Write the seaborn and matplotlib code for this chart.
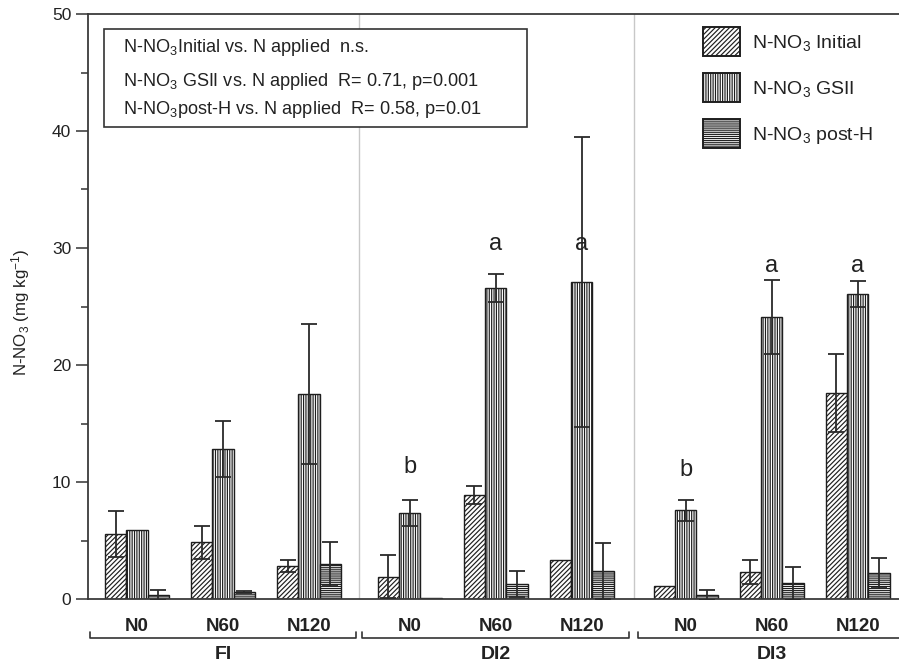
import numpy as np
import pandas as pd
import matplotlib
matplotlib.use("Agg")
import matplotlib.pyplot as plt
from matplotlib.patches import Patch, Rectangle
from matplotlib.container import BarContainer
import matplotlib.transforms as mtransforms
import seaborn as sns

# ---------------- data ----------------
conditions = ["FI", "DI2", "DI3"]
n_levels = ["N0", "N60", "N120"]
series = ["Initial", "GSII", "post-H"]
series_labels = ["N-NO$_3$ Initial", "N-NO$_3$ GSII", "N-NO$_3$ post-H"]

# x positions of the 9 treatment groups (FI N0..N120, DI2 N0..N120, DI3 N0..N120)
positions = [0.0, 1.0, 2.0, 3.17, 4.17, 5.17, 6.38, 7.38, 8.38]

initial_mean = [5.55, 4.85, 2.8, 1.9, 8.9, 3.3, 1.1, 2.3, 17.6]
initial_err = [2.0, 1.4, 0.5, 1.85, 0.75, 0.0, 0.0, 1.0, 3.3]
gsii_mean = [5.9, 12.8, 17.5, 7.35, 26.6, 27.1, 7.6, 24.1, 26.1]
gsii_err = [0.0, 2.4, 6.0, 1.1, 1.2, 12.4, 0.9, 3.2, 1.1]
posth_mean = [0.35, 0.6, 3.0, 0.1, 1.3, 2.4, 0.35, 1.35, 2.2]
posth_err = [0.4, 0.1, 1.9, 0.0, 1.1, 2.4, 0.4, 1.4, 1.3]

letters = ["", "", "", "b", "a", "a", "b", "a", "a"]
letter_y = [0, 0, 0, 11.3, 30.3, 30.3, 11.0, 28.5, 28.5]

stats_lines = [
    "N-NO$_3$Initial vs. N applied  n.s.",
    "N-NO$_3$ GSII vs. N applied  R= 0.71, p=0.001",
    "N-NO$_3$post-H vs. N applied  R= 0.58, p=0.01",
]

means = [initial_mean, gsii_mean, posth_mean]
errs = [initial_err, gsii_err, posth_err]

rows = []
for s, m in zip(series, means):
    for p, v in zip(positions, m):
        rows.append({"pos": p, "series": s, "value": v})
df = pd.DataFrame(rows)

# ---------------- style ----------------
sns.set_style("ticks")
plt.rcParams["font.family"] = ["Liberation Sans", "DejaVu Sans"]
plt.rcParams["mathtext.fontset"] = "custom"
plt.rcParams["mathtext.rm"] = "Liberation Sans"
plt.rcParams["mathtext.it"] = "Liberation Sans:italic"
plt.rcParams["mathtext.bf"] = "Liberation Sans:bold"
plt.rcParams["hatch.linewidth"] = 0.85

edge = "#1e1e1e"
txt = "#222222"

fig = plt.figure(figsize=(8.99, 6.66), dpi=100)
ax = fig.add_axes([88 / 899, 1 - 599 / 666, 811 / 899, 585 / 666])

sns.barplot(data=df, x="pos", y="value", hue="series", hue_order=series,
            native_scale=True, width=0.745, dodge=True,
            palette=["white"] * 3, edgecolor=edge, linewidth=1.0,
            errorbar=None, legend=False, ax=ax, zorder=2)

hatches = ["///////", "|||||||", "--------"]
bar_conts = [c for c in ax.containers if isinstance(c, BarContainer)]
for i, cont in enumerate(bar_conts):
    bars = sorted(cont.patches, key=lambda b: b.get_x())
    xs, hs = [], []
    for b in bars:
        b.set_hatch(hatches[i])
        b.set_edgecolor(edge)
        b.set_facecolor("white")
        xs.append(b.get_x() + b.get_width() / 2)
        hs.append(b.get_height())
    e = np.array(errs[i])
    mask = e > 0
    ax.errorbar(np.array(xs)[mask], np.array(hs)[mask], yerr=e[mask], fmt="none",
                ecolor="#2a2a2a", elinewidth=1.3, capsize=5.7, capthick=1.3, zorder=3)

# separators
for k in range(1, len(conditions)):
    xsep = (positions[3 * k - 1] + positions[3 * k]) / 2
    ax.axvline(xsep, color="#c8c8c8", lw=1.0, zorder=1)

ax.set_xlim(-0.57, 8.86)
ax.set_ylim(0, 50)
ax.set_yticks([0, 10, 20, 30, 40, 50])
ax.set_yticks([5, 15, 25, 35, 45], minor=True)
ax.tick_params(axis="y", which="major", length=9, width=1.1, labelsize=12.5,
               colors="#333333", labelcolor=txt, pad=3)
ax.tick_params(axis="y", which="minor", length=5, width=1.1, colors="#333333")
ax.set_xticks(positions)
ax.set_xticklabels(n_levels * 3, fontweight="bold", fontsize=13.5,
                   family=["Liberation Sans Narrow", "Liberation Sans"], color=txt)
ax.tick_params(axis="x", length=0, pad=14)
ax.set_xlabel("")
ax.set_ylabel("N-NO$_3$ (mg kg$^{-1}$)", fontsize=12.2, color=txt)
ax.yaxis.set_label_coords(-0.069, 0.49)

for sp in ["left", "bottom", "top"]:
    ax.spines[sp].set_color("#3a3a3a")
    ax.spines[sp].set_linewidth(1.3)
ax.spines["right"].set_visible(False)

# letters
for p, l, y in zip(positions, letters, letter_y):
    if l:
        ax.text(p, y, l, ha="center", va="center", fontsize=17, color=txt)

# brackets and condition labels
trans = mtransforms.blended_transform_factory(ax.transData, ax.transAxes)
for k, c in enumerate(conditions):
    x0 = positions[3 * k] - 0.55
    x1 = positions[3 * k + 2] + 0.55
    yb, yt = -0.0667, -0.0564
    ax.plot([x0, x0, x1, x1], [yt, yb, yb, yt], color="#333333", lw=1.2,
            transform=trans, clip_on=False)
    ax.text(positions[3 * k + 1], -0.0957, c, ha="center", va="center",
            fontsize=14, fontweight="bold",
            family=["Liberation Sans Narrow", "Liberation Sans"],
            color=txt, transform=trans)

# stats box
ax.add_patch(Rectangle((0.0197, 0.807), 0.5213, 0.167, transform=ax.transAxes,
                       fill=True, facecolor="white", edgecolor="#333333", lw=1.2,
                       zorder=4))
for line, yy in zip(stats_lines, [0.942, 0.885, 0.837]):
    ax.text(0.0432, yy, line, transform=ax.transAxes, ha="left", va="center",
            fontsize=13.1, color=txt, zorder=5)

# legend
handles = [Patch(facecolor="white", edgecolor=edge, hatch=h, lw=1.4) for h in hatches]
leg = fig.legend(handles, series_labels, loc="upper left",
                 bbox_to_anchor=(703 / 899, 1 - 27 / 666), bbox_transform=fig.transFigure,
                 frameon=False, fontsize=14, handlelength=1.9, handleheight=1.95,
                 handletextpad=0.6, labelspacing=0.85, borderpad=0, borderaxespad=0)
for t in leg.get_texts():
    t.set_color(txt)

fig.savefig("out.png", dpi=100)
